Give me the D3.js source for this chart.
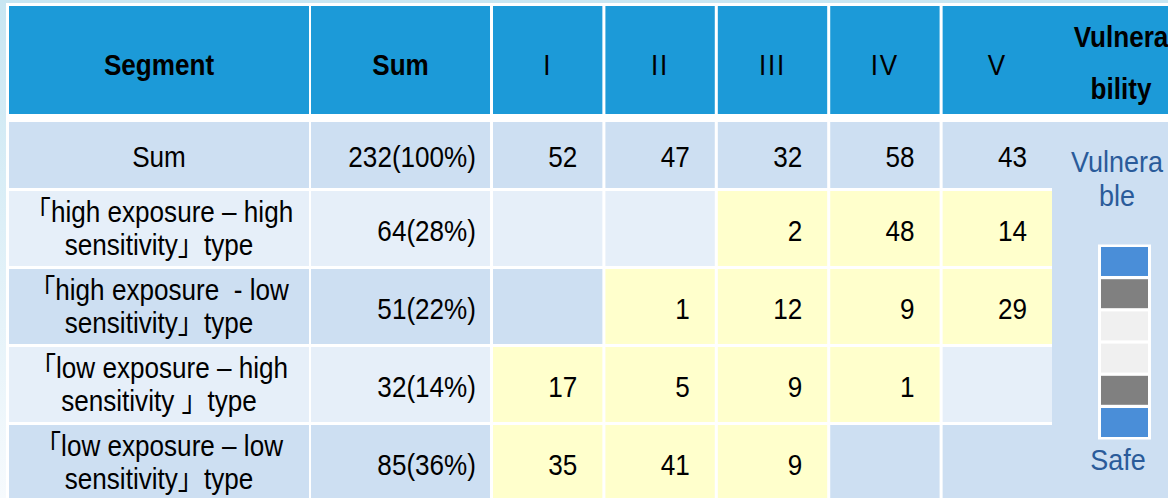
<!DOCTYPE html>
<html>
<head>
<meta charset="utf-8">
<script src="https://cdn.jsdelivr.net/npm/d3@7"></script>
<style>
  body { margin: 0; overflow: hidden; }
  svg text { font-family: "Liberation Sans", Arial, "Noto Sans CJK JP", sans-serif; white-space: pre; }
</style>
</head>
<body>
<div id="container"></div>
<script>
var W = 1168, H = 498;

/* table data */
var headers = ['Segment', 'Sum'],
    levels = ['I', 'II', 'III', 'IV', 'V'],
    vulnHeader = ['Vulnera', 'bility'],
    segments = [
      ['Sum'],
      ['「high exposure – high', 'sensitivity」type'],
      ['「high exposure  - low', 'sensitivity」type'],
      ['「low exposure – high', 'sensitivity 」type'],
      ['「low exposure – low', 'sensitivity」type']
    ],
    sums = ['232(100%)', '64(28%)', '51(22%)', '32(14%)', '85(36%)'],
    counts = [
      [52, 47, 32, 58, 43],
      [null, null, 2, 48, 14],
      [null, 1, 12, 9, 29],
      [17, 5, 9, 1, null],
      [35, 41, 9, null, null]
    ],
    vulnTop = ['Vulnera', 'ble'],
    vulnBottom = 'Safe',
    swatches = ['#4a8ed8', '#808080', '#f0f0f0', '#f0f0f0', '#808080', '#4a8ed8'];

var svg = d3.select('#container').append('svg')
    .attr('width', W).attr('height', H);

/* background */
var defs = svg.append('defs');
var grad = defs.append('linearGradient').attr('id', 'bg').attr('x1', 0).attr('y1', 0).attr('x2', 0).attr('y2', 1);
grad.append('stop').attr('offset', '0%').attr('stop-color', '#c8e6f2');
grad.append('stop').attr('offset', '100%').attr('stop-color', '#f6fafd');
svg.append('rect').attr('width', W).attr('height', H).attr('fill', 'url(#bg)');
svg.append('rect').attr('x', 6).attr('y', 3).attr('width', W).attr('height', H).attr('fill', '#ffffff');

/* layout */
var gap = 3,
    segX = [9, 309], sumX = [311, 490], vulnX = [1052, 1190],
    headY = [6, 114];

var xLevel = d3.scaleBand().domain(levels).range([493, 1052]).paddingInner(0.027).align(0);

var rowH = [66, 75, 75, 75, 75];
var rowY = [];
rowH.reduce(function(acc, h) { rowY.push(acc); return acc + h + gap; }, 122);

var rowFill = ['#cddff2', '#e6eff9', '#cddff2', '#e6eff9', '#cddff2'];
var yellow = '#ffffcc';

function cell(x0, x1, y0, y1, fill) {
  svg.append('rect').attr('x', x0).attr('y', y0).attr('width', x1 - x0).attr('height', y1 - y0).attr('fill', fill);
}

// text is drawn slightly condensed, like the source
function label(x, y, lines, opts) {
  var g = svg.append('g').attr('transform', 'translate(' + x + ',' + y + ') scale(0.9,1)');
  var t = g.append('text')
    .attr('text-anchor', opts.anchor || 'middle')
    .attr('font-size', opts.size || 29)
    .attr('font-weight', opts.bold ? 'bold' : 'normal')
    .attr('letter-spacing', opts.ls || 0)
    .attr('fill', opts.color || '#000');
  var lh = opts.lh || 33;
  var off = -(lines.length - 1) * lh / 2;
  lines.forEach(function(s, i) {
    t.append('tspan').attr('x', 0).attr('y', off + i * lh).text(s);
  });
  return t;
}

/* header */
var hBlue = '#1c9ad8';
var hBase = 75;
cell(segX[0], segX[1], headY[0], headY[1], hBlue);
label((segX[0] + segX[1]) / 2, hBase, [headers[0]], {bold: true});
cell(sumX[0], sumX[1], headY[0], headY[1], hBlue);
label((sumX[0] + sumX[1]) / 2, hBase, [headers[1]], {bold: true});
levels.forEach(function(l) {
  cell(xLevel(l), xLevel(l) + xLevel.bandwidth(), headY[0], headY[1], hBlue);
  label(xLevel(l) + xLevel.bandwidth() / 2, hBase, [l], {ls: 2});
});
cell(vulnX[0], vulnX[1], headY[0], headY[1], hBlue);
label(1121, 73, vulnHeader, {bold: true, lh: 52});

/* body rows */
segments.forEach(function(seg, r) {
  var y0 = rowY[r], y1 = y0 + rowH[r], mid = (y0 + y1) / 2;
  var base = mid + (seg.length > 1 ? 10 : 12);
  cell(segX[0], segX[1], y0, y1, rowFill[r]);
  label((segX[0] + segX[1]) / 2, base, seg, {});
  cell(sumX[0], sumX[1], y0, y1, rowFill[r]);
  label(sumX[1] - 14, mid + 12, [sums[r]], {anchor: 'end'});
  levels.forEach(function(l, c) {
    var v = counts[r][c];
    var fill = (r > 0 && v != null) ? yellow : rowFill[r];
    var x0 = xLevel(l);
    cell(x0, x0 + xLevel.bandwidth(), y0, y1, fill);
    if (v != null) label(x0 + xLevel.bandwidth() - 25, mid + 12, [String(v)], {anchor: 'end'});
  });
});

/* vulnerability column */
cell(vulnX[0], vulnX[1], rowY[0], H + 2, '#cddff2');
label(1117, 189, vulnTop, {size: 30, color: '#2a5b9a', lh: 34});
label(1118, 470, [vulnBottom], {size: 30, color: '#2a5b9a'});

var ySw = d3.scaleBand().domain(d3.range(swatches.length)).range([247, 437]).paddingInner(0.1);
cell(1098, 1151, 244.5, 439.5, '#ffffff');
svg.selectAll('.swatch').data(swatches).enter().append('rect')
  .attr('class', 'swatch')
  .attr('x', 1101).attr('width', 47)
  .attr('y', function(d, i) { return ySw(i); })
  .attr('height', ySw.bandwidth())
  .attr('fill', function(d) { return d; });
</script>
</body>
</html>
